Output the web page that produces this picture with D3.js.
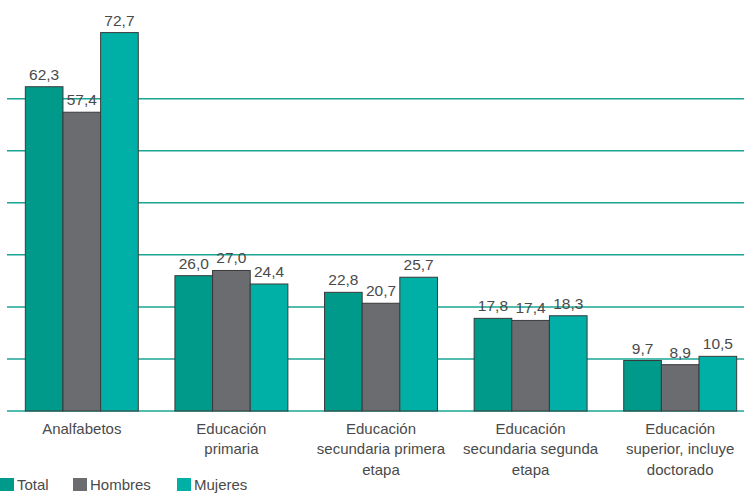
<!DOCTYPE html>
<html><head><meta charset="utf-8">
<script src="https://cdn.jsdelivr.net/npm/d3@7"></script>
<style>body{margin:0;background:#fff}svg{display:block}</style>
</head><body>
<script>
const categories = ["Analfabetos","Educación primaria","Educación secundaria primera etapa","Educación secundaria segunda etapa","Educación superior, incluye doctorado"];
const categoryLines = [["Analfabetos"],["Educación","primaria"],["Educación","secundaria primera","etapa"],["Educación","secundaria segunda","etapa"],["Educación","superior, incluye","doctorado"]];
const seriesNames = ["Total","Hombres","Mujeres"];
const total = [62.3,26.0,22.8,17.8,9.7];
const hombres = [57.4,27.0,20.7,17.4,8.9];
const mujeres = [72.7,24.4,25.7,18.3,10.5];
const gridTicks = [0,10,20,30,40,50,60];
const colors = ["#009a8b","#6b6c70","#00b0a6"];

const W=744,H=493;
const FONT="Liberation Sans, Arial, sans-serif";
const svg=d3.select("body").append("svg").attr("width",W).attr("height",H);
const series=[total,hombres,mujeres];
const x0=d3.scaleBand().domain(categories).range([7,755]).paddingInner(0.245).paddingOuter(0.1225);
const x1=d3.scaleBand().domain(seriesNames).range([0,x0.bandwidth()]);
const y=d3.scaleLinear().domain([0,60]).range([411,98.7]);
const fmt=v=>d3.format(".1f")(v).replace(".",",");

svg.append("g").selectAll("line").data(gridTicks).join("line")
 .attr("x1",7).attr("x2",W).attr("y1",d=>y(d)).attr("y2",d=>y(d))
 .attr("stroke","#1aa595").attr("stroke-width",1.5);

const g=svg.append("g").selectAll("g").data(categories).join("g")
 .attr("transform",d=>`translate(${x0(d)},0)`);
seriesNames.forEach((s,si)=>{
  g.append("rect").attr("x",x1(s)).attr("width",x1.bandwidth())
   .attr("y",(d,i)=>y(series[si][i])).attr("height",(d,i)=>y(0)-y(series[si][i]))
   .attr("fill",colors[si]).attr("stroke","#3a3a3a").attr("stroke-width",1);
  g.append("text").attr("x",x1(s)+x1.bandwidth()/2).attr("y",(d,i)=>y(series[si][i])-7)
   .attr("text-anchor","middle").attr("font-family",FONT)
   .attr("font-size",15.5).attr("fill","#4a4a4a").text((d,i)=>fmt(series[si][i]));
});
g.each(function(d,i){
  const t=d3.select(this).append("text").attr("text-anchor","middle")
   .attr("font-family",FONT).attr("font-size",15).attr("fill","#4a4a4a");
  categoryLines[i].forEach((l,li)=>t.append("tspan").attr("x",x0.bandwidth()/2).attr("y",433.5+li*20.5).text(l));
});

const lx=[0,73,177];
const lg=svg.append("g").selectAll("g").data(seriesNames).join("g")
 .attr("transform",(d,i)=>`translate(${lx[i]},478)`);
lg.append("rect").attr("width",14).attr("height",13).attr("fill",(d,i)=>colors[i]);
lg.append("text").attr("x",17).attr("y",12).attr("font-family",FONT)
 .attr("font-size",15).attr("fill","#4a4a4a").text(d=>d);
</script>
</body></html>
